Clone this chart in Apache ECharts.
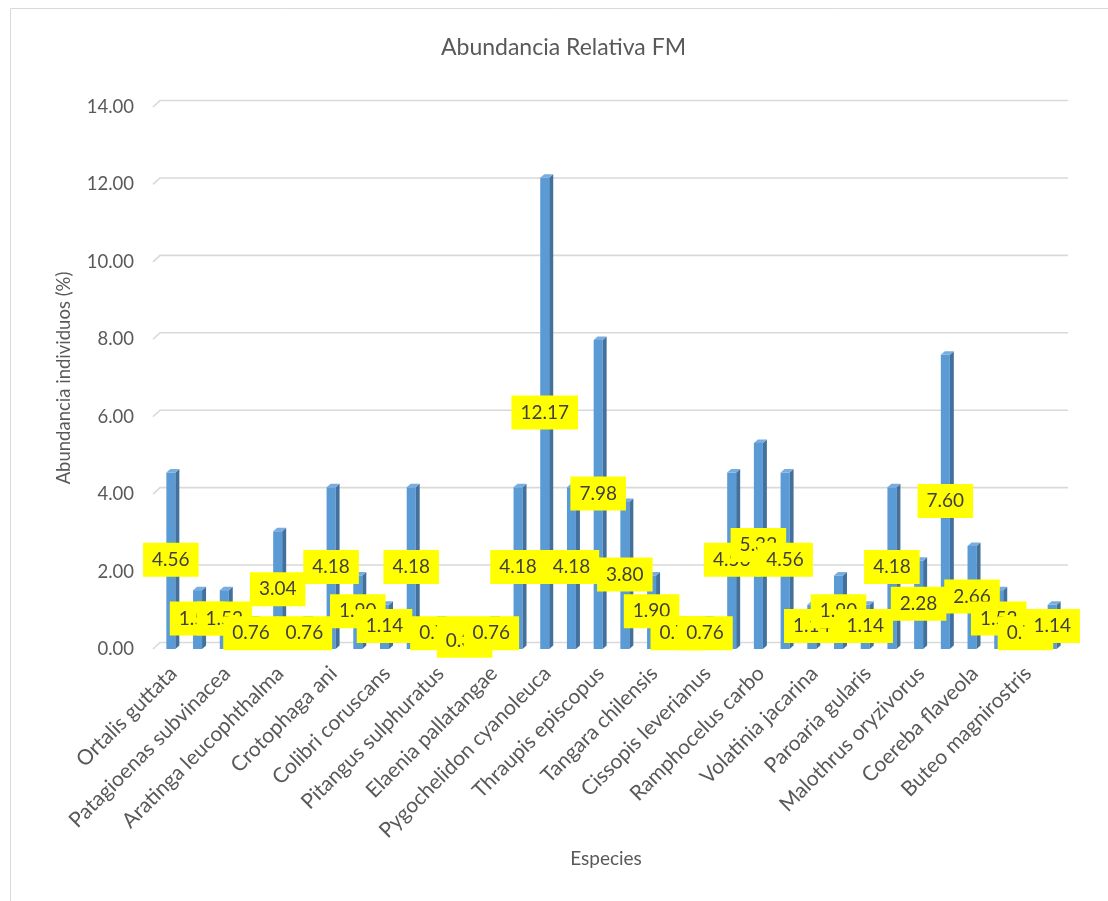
<!DOCTYPE html>
<html>
<head>
<meta charset="utf-8">
<script src="https://cdn.jsdelivr.net/npm/echarts@6/dist/echarts.min.js"></script>
<style>
  html, body { margin: 0; padding: 0; background: #ffffff; }
  #chart { width: 1108px; height: 901px; }
</style>
</head>
<body>
<div id="chart"></div>
<script>
// Species recorded (every other name is shown on the axis)
const species = [
  'Ortalis guttata', 'Columbina talpacoti', 'Patagioenas subvinacea', 'Forpus conspicillatus',
  'Aratinga leucophthalma', 'Piaya cayana', 'Crotophaga ani', 'Amazilia tzacatl',
  'Colibri coruscans', 'Tyrannus melancholicus', 'Pitangus sulphuratus', 'Myiozetetes similis',
  'Elaenia pallatangae', 'Stelgidopteryx ruficollis', 'Pygochelidon cyanoleuca', 'Thraupis palmarum',
  'Thraupis episcopus', 'Tangara vitriolina', 'Tangara chilensis', 'Tangara gyrola',
  'Cissopis leverianus', 'Ramphocelus dimidiatus', 'Ramphocelus carbo', 'Sicalis flaveola',
  'Volatinia jacarina', 'Sporophila nigricollis', 'Paroaria gularis', 'Saltator striatipectus',
  'Malothrus oryzivorus', 'Molothrus bonariensis', 'Coereba flaveola', 'Turdus ignobilis',
  'Buteo magnirostris', 'Milvago chimachima'
];

// Relative abundance (%) per species
const abundance = [
  4.56, 1.52, 1.52, 0.76, 3.04, 0.76, 4.18, 1.90,
  1.14, 4.18, 0.76, 0.38, 0.76, 4.18, 12.17, 4.18,
  7.98, 3.80, 1.90, 0.76, 0.76, 4.56, 5.32, 4.56,
  1.14, 1.90, 1.14, 4.18, 2.28, 7.60, 2.66, 1.52,
  0.76, 1.14
];

// Value-axis ticks
const yTicks = [0, 2, 4, 6, 8, 10, 12, 14];

const FONT = 'Lato, "Open Sans", sans-serif';
const GREY = '#595959';

// Back-wall gridlines with the short slanted side-wall segment
function renderGridLine(params, api) {
  const cs = params.coordSys;
  const y = api.coord([0, api.value(1)])[1];
  const x0 = cs.x, x1 = cs.x + cs.width;
  return {
    type: 'polyline',
    silent: true,
    shape: { points: [[x0 - 7, y], [x0, y - 6.5], [x1, y - 6.5]] },
    style: { stroke: '#d9d9d9', lineWidth: 1.6, fill: null }
  };
}

// Column with front, side and top faces plus its centred value label
function renderColumn(params, api) {
  const idx = api.value(0);
  const val = api.value(1);
  const top = api.coord([idx, val]);
  const base = api.coord([idx, 0]);
  const mid = api.coord([idx, val / 2]);
  const xl = top[0] - 7, xr = top[0] + 2;
  const d = 4, e = 3.5;
  return {
    type: 'group',
    children: [
      { type: 'rect',
        shape: { x: xl, y: top[1], width: xr - xl, height: base[1] - top[1] },
        style: { fill: '#5b9bd5' } },
      { type: 'polygon',
        shape: { points: [[xr, top[1]], [xr + d, top[1] - e], [xr + d, base[1] - e], [xr, base[1]]] },
        style: { fill: '#41719c' } },
      { type: 'polygon',
        shape: { points: [[xl, top[1]], [xl + d, top[1] - e], [xr + d, top[1] - e], [xr, top[1]]] },
        style: { fill: '#79ade0' } },
      { type: 'text',
        x: xl + 4.5, y: mid[1] - 1,
        z2: 100,
        style: {
          text: val.toFixed(2),
          font: '19px ' + FONT,
          fill: '#3f3f3f',
          align: 'center',
          verticalAlign: 'middle',
          backgroundColor: '#ffff00',
          padding: [8, 9, 7, 9]
        } }
    ]
  };
}

const chart = echarts.init(document.getElementById('chart'));
chart.setOption({
  backgroundColor: '#ffffff',
  animation: false,
  title: {
    text: 'Abundancia Relativa FM',
    left: 436,
    top: 31,
    textStyle: { fontFamily: FONT, fontSize: 23, fontWeight: 'normal', color: GREY }
  },
  graphic: [{
    type: 'rect',
    z: -10,
    shape: { x: 10.5, y: 8.5, width: 1200, height: 1000 },
    style: { fill: 'none', stroke: '#d9d9d9', lineWidth: 1 }
  }],
  grid: { left: 160, right: 40, top: 107, bottom: 252, outerBoundsMode: 'none' },
  xAxis: {
    type: 'category',
    data: species,
    name: 'Especies',
    nameLocation: 'middle',
    nameGap: 200,
    nameTextStyle: { fontFamily: FONT, fontSize: 19, color: GREY, padding: [0, 16, 0, 0] },
    axisLine: { show: false },
    axisTick: { show: false },
    splitLine: { show: false },
    axisLabel: {
      interval: 1,
      rotate: 45,
      margin: 21,
      fontFamily: FONT,
      fontSize: 21,
      color: GREY
    }
  },
  yAxis: {
    type: 'value',
    min: 0,
    max: 14,
    interval: 2,
    name: 'Abundancia individuos (%)',
    nameLocation: 'middle',
    nameGap: 86,
    nameTextStyle: { fontFamily: FONT, fontSize: 18.5, color: GREY },
    axisLine: { show: false },
    axisTick: { show: false },
    splitLine: { show: false },
    axisLabel: {
      margin: 26,
      fontFamily: FONT,
      fontSize: 18.5,
      color: GREY,
      formatter: v => v.toFixed(2)
    }
  },
  series: [
    {
      type: 'custom',
      name: 'grid',
      silent: true,
      z: 1,
      renderItem: renderGridLine,
      data: yTicks.map(v => [0, v]),
      encode: { x: 0, y: 1 }
    },
    {
      type: 'custom',
      name: 'Abundancia',
      z: 2,
      renderItem: renderColumn,
      data: abundance.map((v, i) => [i, v]),
      encode: { x: 0, y: 1 }
    }
  ]
});
</script>
</body>
</html>
